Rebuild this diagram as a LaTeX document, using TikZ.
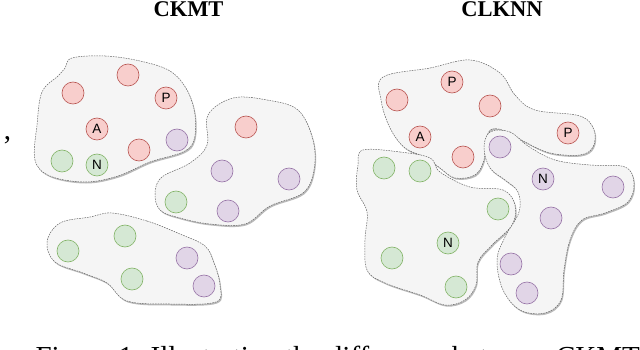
\documentclass[tikz,border=0pt]{standalone}
\usepackage{fontspec}
\setmainfont{Liberation Serif}
\setsansfont{Liberation Sans}
\usetikzlibrary{shadows}

\definecolor{redfill}{HTML}{F8CECC}
\definecolor{redline}{HTML}{B85450}
\definecolor{greenfill}{HTML}{D5E8D4}
\definecolor{greenline}{HTML}{82B366}
\definecolor{violetfill}{HTML}{E1D5E7}
\definecolor{violetline}{HTML}{9673A6}
\definecolor{blobfill}{HTML}{F5F5F5}
\definecolor{blobline}{HTML}{666666}

\begin{document}
\begin{tikzpicture}[
  x=1pt, y=-1pt,
  font=\sffamily,
  dot/.style={circle, draw=#1line, fill=#1fill, line width=.6pt,
    minimum size=22pt, inner sep=0pt, font=\sffamily\fontsize{13.5}{13.5}\selectfont},
  blob/.style={draw=blobline, fill=blobfill, line width=.5pt,
    dash pattern=on 1.6pt off 1pt,
    drop shadow={shadow xshift=1pt, shadow yshift=-1.5pt, fill=black!45, opacity=.6}},
  title/.style={anchor=base, font=\rmfamily\bfseries\fontsize{22.5}{27}\selectfont},
  caption/.style={anchor=base west, font=\rmfamily\fontsize{29}{34}\selectfont}
]
\clip (0,0) rectangle (640,350);

\node[title] (tckmt) at (188.5,17) {CKMT};
\node[title] (tclknn) at (502,17) {CLKNN};
\node[anchor=base, font=\rmfamily\fontsize{29}{34}\selectfont] (comma) at (7.5,140) {,};
\node[caption] (cap) at (32,366) {Figure 1: Illustrating the difference between CKMT};

% CKMT
\draw[blob] plot[smooth cycle, tension=.6] coordinates {(72,58) (105,56) (140,61) (170,71)
  (187,90) (195,115) (194,140) (183,152) (150,162) (118,176) (85,182) (50,176) (35,160)
  (37,125) (42,92) (58,76) (65,68)};
\draw[blob] plot[smooth cycle, tension=.6] coordinates {(233,98) (267,100) (298,110)
  (313,140) (314,170) (303,193) (270,206) (245,224) (210,224) (180,218) (160,210)
  (155,193) (162,177) (190,163) (207,145) (208,115)};
\draw[blob] plot[smooth cycle, tension=.6] coordinates {(112,213) (147,221) (180,234)
  (205,246) (214,263) (220,285) (216,302) (170,304) (127,301) (107,283) (83,273)
  (55,262) (47,242) (60,223) (90,217)};

\node[dot=red] (k1) at (73,93) {};
\node[dot=red] (k2) at (128,75) {};
\node[dot=red] (kp) at (166,98) {P};
\node[dot=red] (ka) at (97,129) {A};
\node[dot=violet] (k3) at (177,140) {};
\node[dot=red] (k4) at (139,150) {};
\node[dot=green] (k5) at (62,161) {};
\node[dot=green] (kn) at (97,165) {N};

\node[dot=red] (k6) at (246,127) {};
\node[dot=violet] (k7) at (222,171) {};
\node[dot=violet] (k8) at (289,179) {};
\node[dot=green] (k9) at (176,202) {};
\node[dot=violet] (k10) at (228,211) {};

\node[dot=green] (k11) at (68,251) {};
\node[dot=green] (k12) at (125,236) {};
\node[dot=violet] (k13) at (187,258) {};
\node[dot=green] (k14) at (132,279) {};
\node[dot=violet] (k15) at (204,286) {};

% CLKNN
\draw[blob] plot[smooth cycle, tension=.6] coordinates {(383,77) (430,68) (470,60)
  (500,73) (515,95) (535,110) (580,116) (594,130) (593,147) (580,155) (550,153)
  (525,142) (508,132) (492,129) (486,140) (484,160) (475,175) (455,178) (440,168)
  (425,157) (405,148) (390,128) (381,100)};
\draw[blob] plot[smooth cycle, tension=.6] coordinates {(363,150) (400,152) (430,158)
  (440,172) (470,187) (503,190) (515,205) (512,225) (492,245) (478,262) (476,285)
  (465,300) (445,305) (420,295) (385,283) (367,270) (365,240) (367,212) (357,190)
  (358,165)};
\draw[blob] plot[smooth cycle, tension=.6] coordinates {(490,132) (510,132) (528,146)
  (555,160) (590,165) (625,167) (634,183) (628,202) (605,213) (582,220) (570,240)
  (564,270) (561,300) (545,313) (520,310) (503,290) (497,260) (505,237) (519,212)
  (518,192) (505,180) (490,168) (484,148)};

\node[dot=red] (c1) at (452,82) {P};
\node[dot=red] (c2) at (397,100) {};
\node[dot=red] (c3) at (490,106) {};
\node[dot=red] (ca) at (420,137) {A};
\node[dot=red] (c4) at (463,157) {};
\node[dot=red] (cp) at (568,133) {P};

\node[dot=green] (c5) at (384,168) {};
\node[dot=green] (c6) at (420,171) {};
\node[dot=green] (c7) at (498,209) {};
\node[dot=green] (cn) at (448,243) {N};
\node[dot=green] (c8) at (392,258) {};
\node[dot=green] (c9) at (456,287) {};

\node[dot=violet] (c10) at (500,147) {};
\node[dot=violet] (cm) at (543,179) {N};
\node[dot=violet] (c11) at (613,187) {};
\node[dot=violet] (c12) at (551,218) {};
\node[dot=violet] (c13) at (511,264) {};
\node[dot=violet] (c14) at (527,293) {};
\end{tikzpicture}
\end{document}
